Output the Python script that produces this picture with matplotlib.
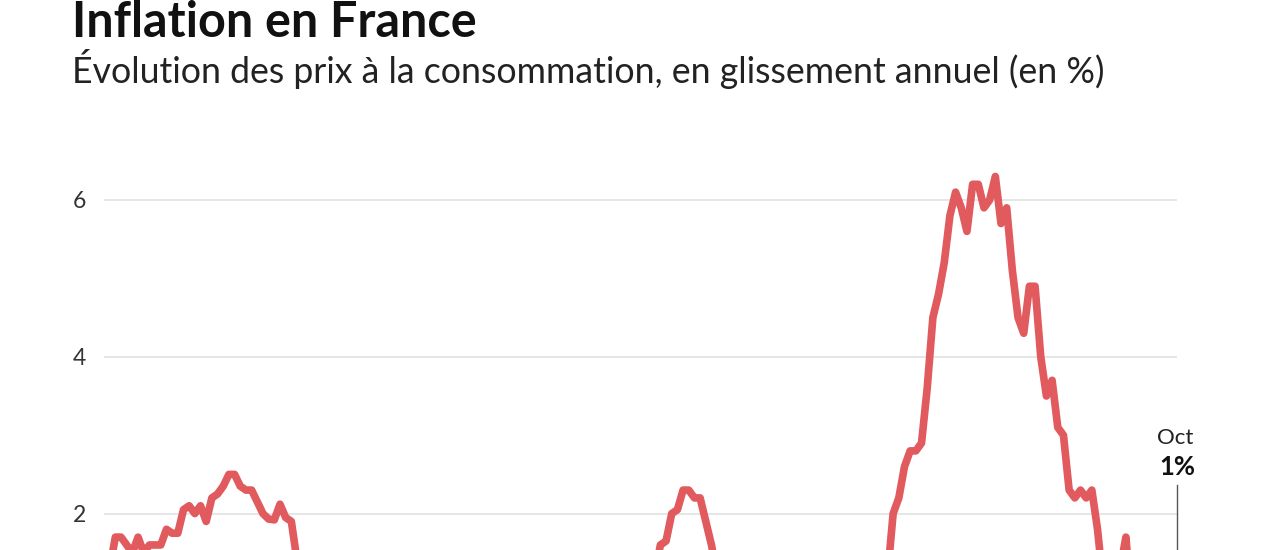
import matplotlib
matplotlib.use("Agg")
import matplotlib.pyplot as plt
import numpy as np

# Monthly CPI year-on-year change (%), Jan 2010 -> Oct 2025
y2010 = [1.2, 1.3, 1.7, 1.7, 1.6, 1.5, 1.7, 1.5, 1.6, 1.6, 1.6, 1.8]
y2011 = [1.75, 1.75, 2.05, 2.1, 2.0, 2.1, 1.9, 2.2, 2.25, 2.35, 2.5, 2.5]
y2012 = [2.35, 2.3, 2.3, 2.15, 2.0, 1.93, 1.92, 2.12, 1.95, 1.9, 1.4, 1.3]
y2013 = [1.2, 1.0, 1.0, 0.7, 0.8, 0.9, 1.2, 0.9, 0.9, 0.6, 0.7, 0.7]
y2014 = [0.6, 0.9, 0.6, 0.7, 0.7, 0.5, 0.5, 0.4, 0.3, 0.5, 0.3, 0.1]
y2015 = [-0.4, -0.3, -0.1, 0.1, 0.3, 0.3, 0.2, 0.0, 0.0, 0.1, 0.1, 0.2]
y2016 = [0.2, -0.2, -0.1, -0.2, 0.1, 0.2, 0.2, 0.2, 0.4, 0.4, 0.5, 0.6]
y2017 = [1.3, 1.2, 1.1, 1.2, 0.8, 0.7, 0.7, 0.9, 1.0, 1.1, 1.2, 1.2]
y2018 = [1.3, 1.2, 1.6, 1.65, 2.0, 2.05, 2.3, 2.3, 2.2, 2.2, 1.9, 1.6]
y2019 = [1.2, 1.3, 1.1, 1.3, 0.9, 1.2, 1.1, 1.0, 0.9, 0.8, 1.0, 1.5]
y2020 = [1.5, 1.4, 0.7, 0.3, 0.4, 0.2, 0.8, 0.2, 0.0, 0.0, 0.2, 0.0]
y2021 = [0.6, 0.6, 1.1, 1.2, 1.4, 1.5, 1.2, 2.0, 2.2, 2.6, 2.8, 2.8]
y2022 = [2.9, 3.6, 4.5, 4.8, 5.2, 5.8, 6.1, 5.9, 5.6, 6.2, 6.2, 5.9]
y2023 = [6.0, 6.3, 5.7, 5.9, 5.1, 4.5, 4.3, 4.9, 4.9, 4.0, 3.5, 3.7]
y2024 = [3.1, 3.0, 2.3, 2.2, 2.3, 2.2, 2.3, 1.8, 1.1, 1.2, 1.3, 1.3]
y2025 = [1.7, 0.8, 0.8, 0.8, 0.7, 0.9, 1.0, 0.9, 1.2, 1.0]

values = (y2010 + y2011 + y2012 + y2013 + y2014 + y2015 + y2016 + y2017 +
          y2018 + y2019 + y2020 + y2021 + y2022 + y2023 + y2024 + y2025)
months = np.arange(len(values))

yticks = [2, 4, 6]
ytick_labels = ["2", "4", "6"]

title = "Inflation en France"
subtitle = "Évolution des prix à la consommation, en glissement annuel (en %)"
last_month_label = "Oct"
last_value_label = "1%"

FONT = ["Lato", "DejaVu Sans"]
plt.rcParams["font.family"] = FONT

W, H = 1280, 550
fig = plt.figure(figsize=(W / 100, H / 100), dpi=100)
fig.patch.set_facecolor("white")

# axes geometry in pixels
x_left, x_right = 104, 1177
ymin, ymax = -1.0, 6.6
px_per_unit = 78.4
y6_px = 200
top_px = y6_px - (ymax - 6) * px_per_unit
bot_px = y6_px + (6 - ymin) * px_per_unit
ax = fig.add_axes([x_left / W, 1 - bot_px / H, (x_right - x_left) / W,
                   (bot_px - top_px) / H])
ax.set_xlim(0, len(values) - 1)
ax.set_ylim(ymin, ymax)

for s in ax.spines.values():
    s.set_visible(False)
ax.set_xticks([])
ax.set_yticks(yticks)
ax.set_yticklabels(ytick_labels)
ax.tick_params(axis="y", length=0, pad=13, labelsize=16.5, labelcolor="#333333")
ax.grid(axis="y", color="#e4e4e4", linewidth=1.3)
ax.set_axisbelow(True)

ax.plot(months, values, color="#e05a5e", linewidth=5.5,
        solid_joinstyle="round", solid_capstyle="round", zorder=3)

# annotation for the last value
label_bottom_v = 6 - (485 - y6_px) / px_per_unit
ax.plot([months[-1], months[-1]], [values[-1], label_bottom_v],
        color="#555555", linewidth=1.0, clip_on=False, zorder=4)
ax.text(months[-1] - 0.4, 6 - (444 - y6_px) / px_per_unit, last_month_label,
        ha="center", va="baseline", fontsize=16, color="#222222")
ax.text(months[-1], 6 - (475 - y6_px) / px_per_unit, last_value_label,
        ha="center", va="baseline", fontsize=18.5, fontweight="bold",
        color="#111111")

renderer = fig.canvas.get_renderer()


def fitted_text(x_px, base_px, s, target_w, size, **kw):
    t = fig.text(x_px / W, 1 - base_px / H, s, ha="left", va="baseline",
                 fontsize=size, **kw)
    w = t.get_window_extent(renderer).width
    t.set_fontsize(size * target_w / w)
    return t


fitted_text(72, 37, title, 406, 34, fontweight="bold", color="#111111")
fitted_text(72, 83, subtitle, 1033, 24, color="#222222")

fig.savefig("out.png", dpi=100, facecolor="white")
